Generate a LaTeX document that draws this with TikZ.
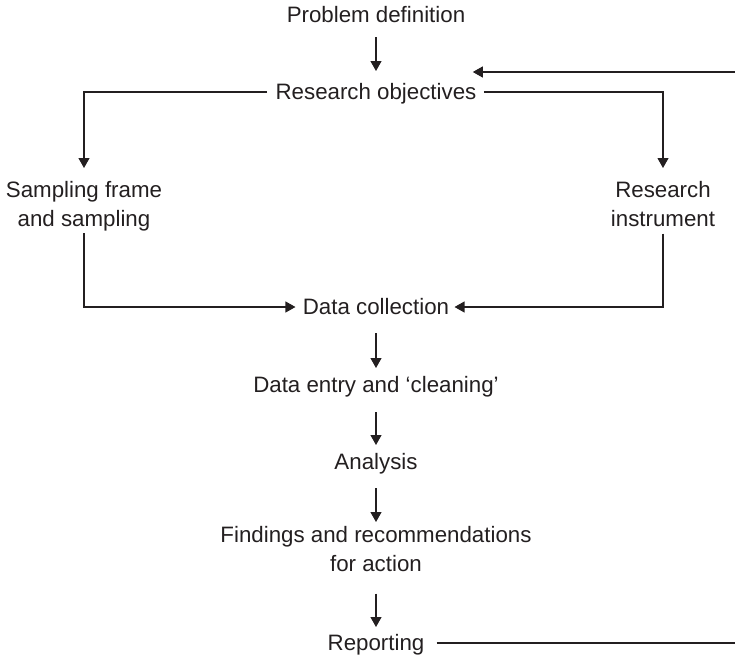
\documentclass[tikz,border=0pt]{standalone}
\usepackage{fontspec}
\setmainfont{Liberation Sans}
\usetikzlibrary{arrows.meta}
\definecolor{ink}{HTML}{231F20}
\begin{document}
\begin{tikzpicture}[x=0.5pt,y=-0.5pt,
  every node/.style={font=\fontsize{11.15pt}{14.25pt}\selectfont, text=ink},
  lbl/.style={inner sep=0pt, text height=0.72em, text depth=0pt},
  ml/.style={inner sep=0pt, align=center, anchor=north},
  ln/.style={draw=ink, line width=0.55pt},
  arr/.style={ln, -{Triangle[length=5pt,width=5.5pt]}}]
\useasboundingbox (0,0) rectangle (735,659);
\node[lbl] (pd) at (376,15) {Problem definition};
\node[lbl] (ro) at (376,92) {Research objectives};
\node[ml] (sf) at (84,181) {Sampling frame\\and sampling};
\node[ml] (ri) at (663,181) {Research\\instrument};
\node[lbl] (dc) at (376,307) {Data collection};
\node[lbl] (de) at (376,385) {Data entry and `cleaning'};
\node[lbl] (an) at (376,462) {Analysis};
\node[ml] (fi) at (376,526) {Findings and recommendations\\for action};
\node[lbl] (rep) at (376,643) {Reporting};
\coordinate (fbR) at (735,72);
\coordinate (repR) at (735,643);
\coordinate (roR) at ([xshift=-2pt]ro.east);
\draw[arr] ([yshift=-11pt]pd.center) -- ([yshift=10.5pt]ro.center);
\draw[arr] ([xshift=-4pt]ro.west) -| ([yshift=6.5pt]sf.north);
\draw[arr] ([xshift=3.5pt]ro.east) -| ([yshift=6.5pt]ri.north);
\draw[arr] ([yshift=-1pt]sf.south) |- ([xshift=-3.5pt]dc.west);
\draw[arr] ([yshift=-3.5pt]ri.south) |- ([xshift=2.5pt]dc.east);
\draw[arr] ([yshift=-13pt]dc.center) -- ([yshift=8.5pt]de.center);
\draw[arr] ([yshift=-13.5pt]de.center) -- ([yshift=8.5pt]an.center);
\draw[arr] ([yshift=-13pt]an.center) -- ([yshift=2pt]fi.north);
\draw[arr] ([yshift=-11pt]fi.south) -- ([yshift=8pt]rep.center);
\draw[ln] ([xshift=6pt]rep.east) -- (repR);
\draw[arr] (fbR) -- (roR |- fbR);
\end{tikzpicture}
\end{document}
